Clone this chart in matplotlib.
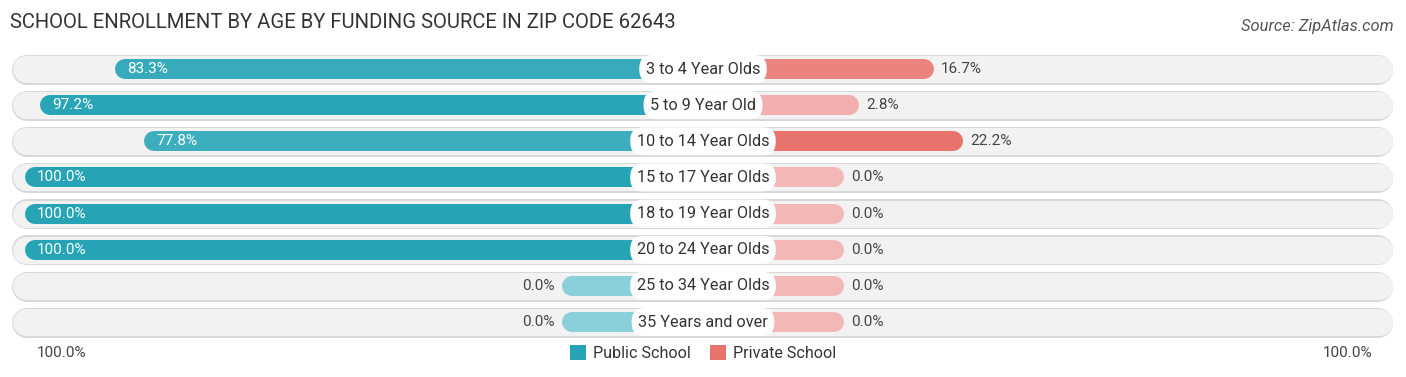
import matplotlib
matplotlib.use("Agg")
import matplotlib.pyplot as plt
from matplotlib.patches import Patch
import numpy as np

plt.rcParams['font.family'] = ['Roboto', 'DejaVu Sans']

categories = ["3 to 4 Year Olds", "5 to 9 Year Old", "10 to 14 Year Olds",
              "15 to 17 Year Olds", "18 to 19 Year Olds", "20 to 24 Year Olds",
              "25 to 34 Year Olds", "35 Years and over"]
public = [83.3, 97.2, 77.8, 100.0, 100.0, 100.0, 0.0, 0.0]
private = [16.7, 2.8, 22.2, 0.0, 0.0, 0.0, 0.0, 0.0]

title = "SCHOOL ENROLLMENT BY AGE BY FUNDING SOURCE IN ZIP CODE 62643"
source = "Source: ZipAtlas.com"

BLUE_FULL, BLUE_LIGHT = np.array([0x26, 0xa4, 0xb6]) / 255, np.array([0x8a, 0xd0, 0xda]) / 255
RED_FULL, RED_LIGHT = np.array([0xe8, 0x72, 0x6c]) / 255, np.array([0xf3, 0xb8, 0xb6]) / 255

W, H = 1406, 377
PX = 5.37          # pixels per percent
STUB = 141 / PX    # minimum bar length beside the label
ROW = 36.15        # pixels per row
TOP = 69           # first row centre in pixels

fig = plt.figure(figsize=(W / 100, H / 100), dpi=100)
ax = fig.add_axes([0, 0, 1, 1])
half = (W / 2) / PX
ax.set_xlim(-half, half)
ax.set_ylim((H - TOP) / ROW, -TOP / ROW)
ax.axis("off")

def lw(px):
    return px * 72 / 100

def rad(px):
    return px / 2 / PX

def mix(light, full, t):
    return tuple(light + (full - light) * t)

bg_l, bg_r = -128.7, 128.4
pmax, rmax = max(public), max(private)
for i, cat in enumerate(categories):
    # background pill
    ax.plot([bg_l + rad(30), bg_r - rad(30)], [i + 0.02, i + 0.02], color="#d8d8d8",
            lw=lw(30), solid_capstyle="round", zorder=1)
    ax.plot([bg_l + rad(28), bg_r - rad(28)], [i, i], color="#f2f2f2",
            lw=lw(27), solid_capstyle="round", zorder=1)

    pv, rv = public[i], private[i]
    left = -(STUB + pv)
    right = STUB + rv
    ax.plot([left + rad(20), 0], [i, i], color=mix(BLUE_LIGHT, BLUE_FULL, pv / pmax),
            lw=lw(20), solid_capstyle="round", zorder=2)
    ax.plot([0, right - rad(20)], [i, i], color=mix(RED_LIGHT, RED_FULL, rv / rmax),
            lw=lw(20), solid_capstyle="round", zorder=2)

    if pv > 30:
        ax.text(left + 12 / PX, i, f"{pv:.1f}%", color="white", fontsize=11,
                ha="left", va="center", zorder=4)
    else:
        ax.text(left - 7 / PX, i, f"{pv:.1f}%", color="#444444", fontsize=11,
                ha="right", va="center", zorder=4)
    ax.text(right + 7 / PX, i, f"{rv:.1f}%", color="#444444", fontsize=11,
            ha="left", va="center", zorder=4)

    ax.text(0, i, cat, color="#333333", fontsize=11.7, ha="center", va="center", zorder=5,
            bbox=dict(boxstyle="round,pad=0.4,rounding_size=0.8", fc="white", ec="none"))

ybot = (353 - TOP) / ROW
ax.text(-(STUB + 100) + 12 / PX, ybot, "100.0%", color="#444444", fontsize=11,
        ha="left", va="center")
ax.text(STUB + 100 - 9 / PX, ybot, "100.0%", color="#444444", fontsize=11,
        ha="right", va="center")

fig.text(10 / W, 1 - 22 / H, title, fontsize=14.6, color="#333333", ha="left", va="center")
fig.text(1394 / W, 1 - 26 / H, source, fontsize=11.9, color="#555555", style="italic",
         ha="right", va="center")

handles = [Patch(facecolor=tuple(BLUE_FULL), label="Public School"),
           Patch(facecolor=tuple(RED_FULL), label="Private School")]
fig.legend(handles=handles, loc="center", bbox_to_anchor=(0.5, 1 - 353 / H), ncol=2,
           frameon=False, fontsize=11.6, handlelength=1.0, handleheight=1.0,
           handletextpad=0.45, columnspacing=1.2, labelcolor="#333333")

fig.savefig("out.png", dpi=100)
